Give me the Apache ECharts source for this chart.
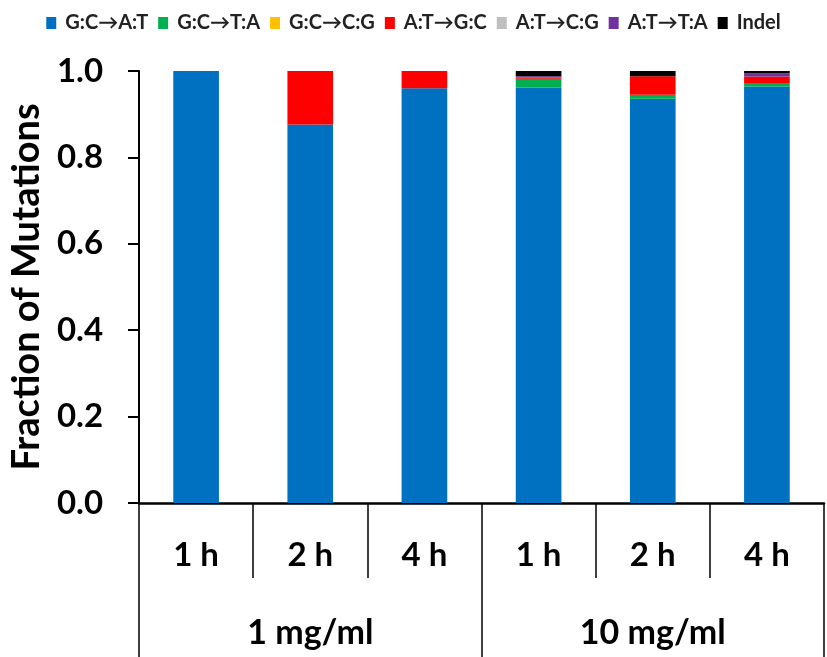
<!DOCTYPE html>
<html><head><meta charset="utf-8">
<script src="https://cdn.jsdelivr.net/npm/echarts@6/dist/echarts.min.js"></script>
<style>html,body{margin:0;padding:0;background:#fff}#c{width:827px;height:657px}</style>
</head><body><div id="c"></div>
<script>
const timeLabels = ['1 h','2 h','4 h','1 h','2 h','4 h'];
const groupLabels = ['1 mg/ml','10 mg/ml'];
const seriesNames = ['G:C→A:T','G:C→T:A','G:C→C:G','A:T→G:C','A:T→C:G','A:T→T:A','Indel'];
const GC_AT = [1.0, 0.876, 0.96, 0.962, 0.936, 0.964];
const GC_TA = [0, 0, 0, 0.02, 0.009, 0.008];
const GC_CG = [0, 0, 0, 0, 0, 0];
const AT_GC = [0, 0.124, 0.04, 0.003, 0.043, 0.015];
const AT_CG = [0, 0, 0, 0, 0, 0];
const AT_TA = [0, 0, 0, 0.003, 0, 0.008];
const Indel = [0, 0, 0, 0.012, 0.012, 0.005];
const colors = ['#0070C0','#00B050','#FFC000','#FF0000','#BFBFBF','#7030A0','#000000'];
const allData = [GC_AT, GC_TA, GC_CG, AT_GC, AT_CG, AT_TA, Indel];
const FONT = 'Lato';
const chart = echarts.init(document.getElementById('c'));
chart.setOption({
  animation: false,
  color: colors,
  legend: {
    top: 8, left: 'center', itemWidth: 10, itemHeight: 12, itemGap: 10,
    icon: 'rect',
    textStyle: {fontFamily: FONT, fontSize: 20, color: '#222', fontWeight: 'bold', padding: [0, 0, 0, 4]},
    data: seriesNames
  },
  grid: {left: 138, right: 3, top: 71, bottom: 154, containLabel: false},
  xAxis: [{
    type: 'category', data: timeLabels, position: 'bottom',
    axisLine: {lineStyle: {color: '#000', width: 2.5}},
    axisTick: {show: true, interval: 0, length: 75, lineStyle: {color: '#000', width: 1.5}},
    axisLabel: {interval: 0, margin: 36, fontFamily: FONT, fontWeight: 'bold', fontSize: 33, color: '#000'}
  }, {
    type: 'category', data: groupLabels, position: 'bottom',
    axisLine: {show: false},
    axisTick: {show: true, interval: 0, length: 154, lineStyle: {color: '#000', width: 1.5}},
    axisLabel: {interval: 0, margin: 113, fontFamily: FONT, fontWeight: 'bold', fontSize: 34, color: '#000'}
  }],
  yAxis: {
    type: 'value', min: 0, max: 1, interval: 0.2,
    name: 'Fraction of Mutations', nameLocation: 'middle', nameGap: 89, nameRotate: 90,
    nameTextStyle: {fontFamily: FONT, fontWeight: 'bold', fontSize: 38, color: '#000'},
    axisLine: {show: true, lineStyle: {color: '#000', width: 2}},
    axisTick: {show: true, length: 11, lineStyle: {color: '#000', width: 2}},
    splitLine: {show: false},
    axisLabel: {margin: 36, fontFamily: FONT, fontWeight: 'bold', fontSize: 33, color: '#000',
      formatter: v => v.toFixed(1)}
  },
  series: seriesNames.map((n, i) => ({
    name: n, type: 'bar', stack: 'all', barWidth: '40%', xAxisIndex: 0,
    data: allData[i], itemStyle: {color: colors[i]}
  }))
});
</script></body></html>
